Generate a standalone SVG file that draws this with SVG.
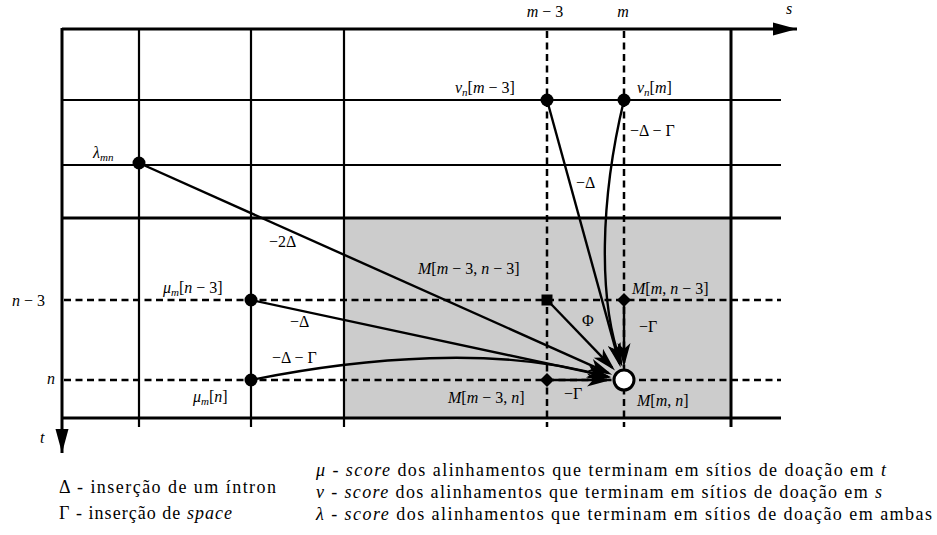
<svg xmlns="http://www.w3.org/2000/svg" width="937" height="535" viewBox="0 0 937 535">
<defs>
<style>
.g{stroke:#000;stroke-width:2.2;fill:none}
.ax{stroke:#000;stroke-width:3;fill:none}
.d{stroke:#000;stroke-width:2.5;stroke-dasharray:7 4.5;fill:none}
.c{stroke:#000;stroke-width:2.4;fill:none;marker-end:url(#ah)}
text{font-family:"Liberation Serif","Times New Roman",serif;fill:#000}
.m{font-size:16px}
.i{font-style:italic}
.s{font-size:11px;font-style:italic}
.lg{font-size:18px}
</style>
<marker id="ah" viewBox="-22 -7 27 14" markerWidth="27" markerHeight="14" refX="0" refY="0" orient="auto" markerUnits="userSpaceOnUse">
<path d="M4,0 L-20,-6.5 L-14,0 L-20,6.5 Z" fill="#000"/>
</marker>
<marker id="big" viewBox="-24 -7 25 14" markerWidth="25" markerHeight="14" refX="0" refY="0" orient="auto" markerUnits="userSpaceOnUse">
<path d="M0,0 L-24,-6.5 L-24,6.5 Z" fill="#000"/>
</marker>
</defs>
<rect width="937" height="535" fill="#fff"/>
<g id="grid">
<rect x="344" y="218" width="387" height="200" fill="#cccccc"/>
<line class="g" x1="62" y1="100" x2="781" y2="100"/>
<line class="g" x1="62" y1="165" x2="781" y2="165"/>
<line class="ax" x1="62" y1="218" x2="781" y2="218"/>
<line class="ax" x1="62" y1="418" x2="781" y2="418"/>
<line class="g" x1="139" y1="29" x2="139" y2="427"/>
<line class="g" x1="251" y1="29" x2="251" y2="427"/>
<line class="g" x1="344" y1="29" x2="344" y2="427"/>
<line class="ax" x1="731" y1="29" x2="731" y2="427"/>
<line class="d" x1="547" y1="31" x2="547" y2="427"/>
<line class="d" x1="624" y1="31" x2="624" y2="427"/>
<line class="d" x1="64" y1="300" x2="781" y2="300"/>
<line class="d" x1="64" y1="380" x2="781" y2="380"/>
</g>
<g id="axes">
<line class="ax" x1="62" y1="29" x2="797" y2="29" marker-end="url(#big)"/>
<line class="ax" x1="62" y1="28" x2="62" y2="453" marker-end="url(#big)"/>
<text class="m i" x="786" y="14">s</text>
<text class="m i" x="40" y="443">t</text>
<text class="m" x="545" y="17" text-anchor="middle"><tspan class="i">m</tspan> − 3</text>
<text class="m i" x="623" y="17" text-anchor="middle">m</text>
<text class="m" x="12" y="306"><tspan class="i">n</tspan> − 3</text>
<text class="m i" x="47" y="384">n</text>
</g>
<g id="connectors">
<line class="c" x1="139" y1="163" x2="608.5" y2="373.1"/>
<line class="c" x1="251" y1="300" x2="607.4" y2="376.4"/>
<path class="c" d="M251,380 C360,358 500,345 607,377"/>
<line class="c" x1="551" y1="304" x2="612.2" y2="367.7"/>
<line class="c" x1="624" y1="306" x2="624" y2="363"/>
<line class="c" x1="553" y1="380" x2="607" y2="380"/>
<line class="c" x1="547" y1="100" x2="619.5" y2="363.6"/>
<path class="c" d="M624,100 C600,200 598,300 621,363"/>
<text class="m" x="269" y="247">−2Δ</text>
<text class="m" x="290" y="327">−Δ</text>
<text class="m" x="272" y="363">−Δ − Γ</text>
<text class="m" x="582" y="326">Φ</text>
<text class="m" x="639" y="332">−Γ</text>
<text class="m" x="564" y="399">−Γ</text>
<text class="m" x="576" y="188">−Δ</text>
<text class="m" x="630" y="136">−Δ − Γ</text>
</g>
<g id="lambda">
<circle cx="139" cy="163" r="6.5" fill="#000"/>
<text class="m" x="93" y="158"><tspan class="i">λ</tspan><tspan class="s" dy="3">mn</tspan></text>
</g>
<g id="mu_n3">
<circle cx="251" cy="300" r="6.5" fill="#000"/>
<text class="m" x="163" y="293"><tspan class="i">μ</tspan><tspan class="s" dy="3">m</tspan><tspan dy="-3">[</tspan><tspan class="i">n</tspan> − 3]</text>
</g>
<g id="mu_n">
<circle cx="251" cy="380" r="6.5" fill="#000"/>
<text class="m" x="193" y="402"><tspan class="i">μ</tspan><tspan class="s" dy="3">m</tspan><tspan dy="-3">[</tspan><tspan class="i">n</tspan>]</text>
</g>
<g id="nu_m3">
<circle cx="547" cy="100" r="6.5" fill="#000"/>
<text class="m" x="455" y="93"><tspan class="i">ν</tspan><tspan class="s" dy="3">n</tspan><tspan dy="-3">[</tspan><tspan class="i">m</tspan> − 3]</text>
</g>
<g id="nu_m">
<circle cx="624" cy="100" r="6.5" fill="#000"/>
<text class="m" x="637" y="93"><tspan class="i">ν</tspan><tspan class="s" dy="3">n</tspan><tspan dy="-3">[</tspan><tspan class="i">m</tspan>]</text>
</g>
<g id="M_m3_n3">
<rect x="541.5" y="294.5" width="11" height="11" fill="#000"/>
<text class="m" x="418" y="274"><tspan class="i">M</tspan>[<tspan class="i">m</tspan> − 3, <tspan class="i">n</tspan> − 3]</text>
</g>
<g id="M_m_n3">
<path d="M624,293 L631,300 L624,307 L617,300 Z" fill="#000"/>
<text class="m" x="632" y="294"><tspan class="i">M</tspan>[<tspan class="i">m</tspan>, <tspan class="i">n</tspan> − 3]</text>
</g>
<g id="M_m3_n">
<path d="M547,373 L554,380 L547,387 L540,380 Z" fill="#000"/>
<text class="m" x="448" y="403"><tspan class="i">M</tspan>[<tspan class="i">m</tspan> − 3, <tspan class="i">n</tspan>]</text>
</g>
<g id="M_m_n">
<circle cx="624" cy="380" r="10" fill="#fff" stroke="#000" stroke-width="3"/>
<text class="m" x="637" y="406"><tspan class="i">M</tspan>[<tspan class="i">m</tspan>, <tspan class="i">n</tspan>]</text>
</g>
<g id="legend">
<text class="lg" x="59" y="493" textLength="217">Δ - inserção de um íntron</text>
<text class="lg" x="59" y="519" textLength="173">Γ - inserção de <tspan class="i">space</tspan></text>
<text class="lg" x="316" y="476" textLength="570"><tspan class="i">μ</tspan> - <tspan class="i">score</tspan> dos alinhamentos que terminam em sítios de doação em <tspan class="i">t</tspan></text>
<text class="lg" x="316" y="498" textLength="566"><tspan class="i">ν</tspan> - <tspan class="i">score</tspan> dos alinhamentos que terminam em sítios de doação em <tspan class="i">s</tspan></text>
<text class="lg" x="316" y="520" textLength="616"><tspan class="i">λ</tspan> - <tspan class="i">score</tspan> dos alinhamentos que terminam em sítios de doação em ambas</text>
</g>
</svg>
